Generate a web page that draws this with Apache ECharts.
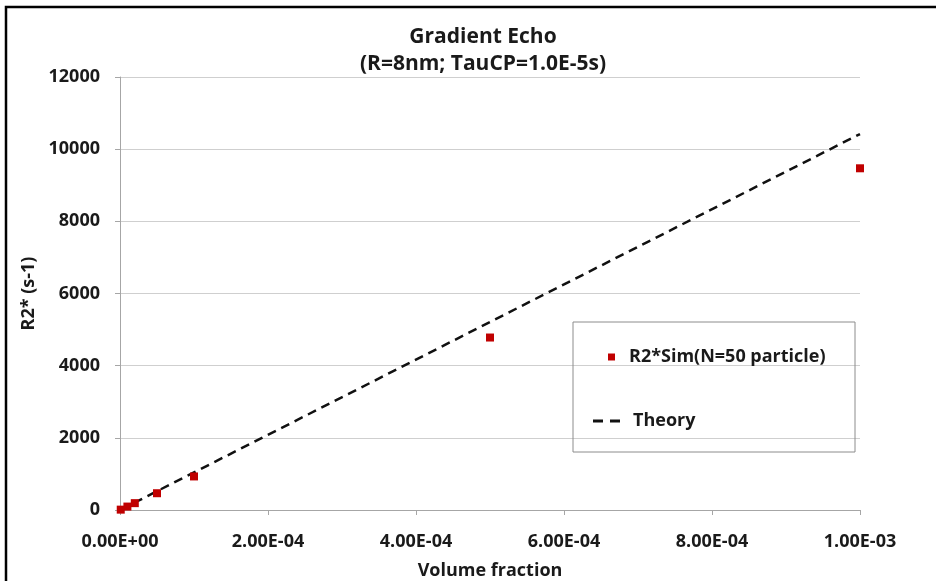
<!DOCTYPE html>
<html>
<head>
<meta charset="utf-8">
<script src="https://cdn.jsdelivr.net/npm/echarts@6/dist/echarts.min.js"></script>
<style>
  html, body { margin: 0; padding: 0; background: #fff; }
  #chart { width: 936px; height: 581px; }
</style>
</head>
<body>
<div id="chart"></div>
<script>
// Volume fractions at which R2* was simulated / computed
var volumeFraction = [1e-6, 1e-5, 2e-5, 5e-5, 1e-4, 5e-4, 1e-3];
// Simulated R2* (s-1), N = 50 particles
var r2Sim = [10, 95, 190, 465, 930, 4780, 9470];
// Theoretical R2* (s-1)
var r2Theory = [10, 104, 208, 521, 1042, 5210, 10420];
// Axis ticks
var yTicks = [0, 2000, 4000, 6000, 8000, 10000, 12000];
var xTickLabels = ['0.00E+00', '2.00E-04', '4.00E-04', '6.00E-04', '8.00E-04', '1.00E-03'];

var FONT = "'Open Sans', 'Liberation Sans', sans-serif";
var TEXT = '#1a1a1a';

function pairs(xs, ys) {
  return xs.map(function (x, i) { return [x, ys[i]]; });
}

var chart = echarts.init(document.getElementById('chart'));
chart.setOption({
  backgroundColor: '#ffffff',
  animation: false,
  title: {
    text: 'Gradient Echo\n(R=8nm; TauCP=1.0E-5s)',
    left: 478,
    textAlign: 'center',
    top: 19,
    textStyle: { fontFamily: FONT, fontSize: 21, fontWeight: 'bold', color: TEXT, lineHeight: 27 }
  },
  grid: { left: 120, right: 76, top: 77, bottom: 71, containLabel: false, outerBoundsMode: 'none' },
  xAxis: {
    type: 'value',
    min: 0,
    max: 1e-3,
    interval: 2e-4,
    name: 'Volume fraction',
    nameLocation: 'middle',
    nameGap: 52,
    nameTextStyle: { fontFamily: FONT, fontSize: 18, fontWeight: 'bold', color: TEXT },
    axisLine: { show: true, onZero: false, lineStyle: { color: '#a6a6a6', width: 1 } },
    axisTick: { show: true, length: 5, inside: false, lineStyle: { color: '#a6a6a6' } },
    axisLabel: {
      margin: 23,
      fontFamily: FONT, fontSize: 18, fontWeight: 'bold', color: TEXT,
      formatter: function (v) {
        var i = Math.round(v / 2e-4);
        return xTickLabels[i] !== undefined ? xTickLabels[i] : '';
      }
    },
    splitLine: { show: false }
  },
  yAxis: {
    type: 'value',
    min: yTicks[0],
    max: yTicks[yTicks.length - 1],
    interval: 2000,
    name: 'R2* (s-1)',
    nameLocation: 'middle',
    nameGap: 80,
    nameTextStyle: { fontFamily: FONT, fontSize: 18, fontWeight: 'bold', color: TEXT },
    axisLine: { show: true, lineStyle: { color: '#a6a6a6', width: 1 } },
    axisTick: { show: true, length: 5, lineStyle: { color: '#a6a6a6' } },
    axisLabel: {
      margin: 20, fontFamily: FONT, fontSize: 18, fontWeight: 'bold', color: TEXT,
      formatter: function (v) { return String(v); }
    },
    splitLine: { show: true, lineStyle: { color: '#cfcfcf', width: 1 } }
  },
  legend: [
    {
      data: [{ name: 'R2*Sim(N=50 particle)', icon: 'rect' }],
      left: 603, top: 343,
      itemWidth: 7, itemHeight: 7, itemGap: 0,
      textStyle: { fontFamily: FONT, fontSize: 18, fontWeight: 'bold', color: TEXT, padding: [0, 0, 0, 9] }
    },
    {
      // two short dashes drawn as the key for the dashed theory line
      data: [{ name: 'Theory', icon: 'path://M0,0L10,0L10,3L0,3Z M17,0L27,0L27,3L17,3Z' }],
      left: 588, top: 407,
      itemWidth: 27, itemHeight: 3,
      textStyle: { fontFamily: FONT, fontSize: 18, fontWeight: 'bold', color: TEXT, padding: [0, 0, 0, 8] }
    }
  ],
  graphic: [
    {
      type: 'rect',
      shape: { x: 573, y: 322, width: 282, height: 130 },
      style: { fill: 'none', stroke: '#8c8c8c', lineWidth: 1 },
      z: 10
    },
    {
      type: 'rect',
      shape: { x: 6, y: 7, width: 960, height: 620 },
      style: { fill: 'none', stroke: '#000000', lineWidth: 2.5 },
      z: 10
    }
  ],
  series: [
    {
      name: 'Theory',
      type: 'line',
      data: pairs(volumeFraction, r2Theory),
      showSymbol: false,
      symbol: 'none',
      lineStyle: { color: '#111111', width: 2.5, type: [9, 6] },
      itemStyle: { color: '#111111' },
      z: 2
    },
    {
      name: 'R2*Sim(N=50 particle)',
      type: 'scatter',
      data: pairs(volumeFraction, r2Sim),
      symbol: 'rect',
      symbolSize: 8,
      itemStyle: { color: '#c00000', opacity: 1 },
      z: 3
    }
  ]
});
</script>
</body>
</html>
